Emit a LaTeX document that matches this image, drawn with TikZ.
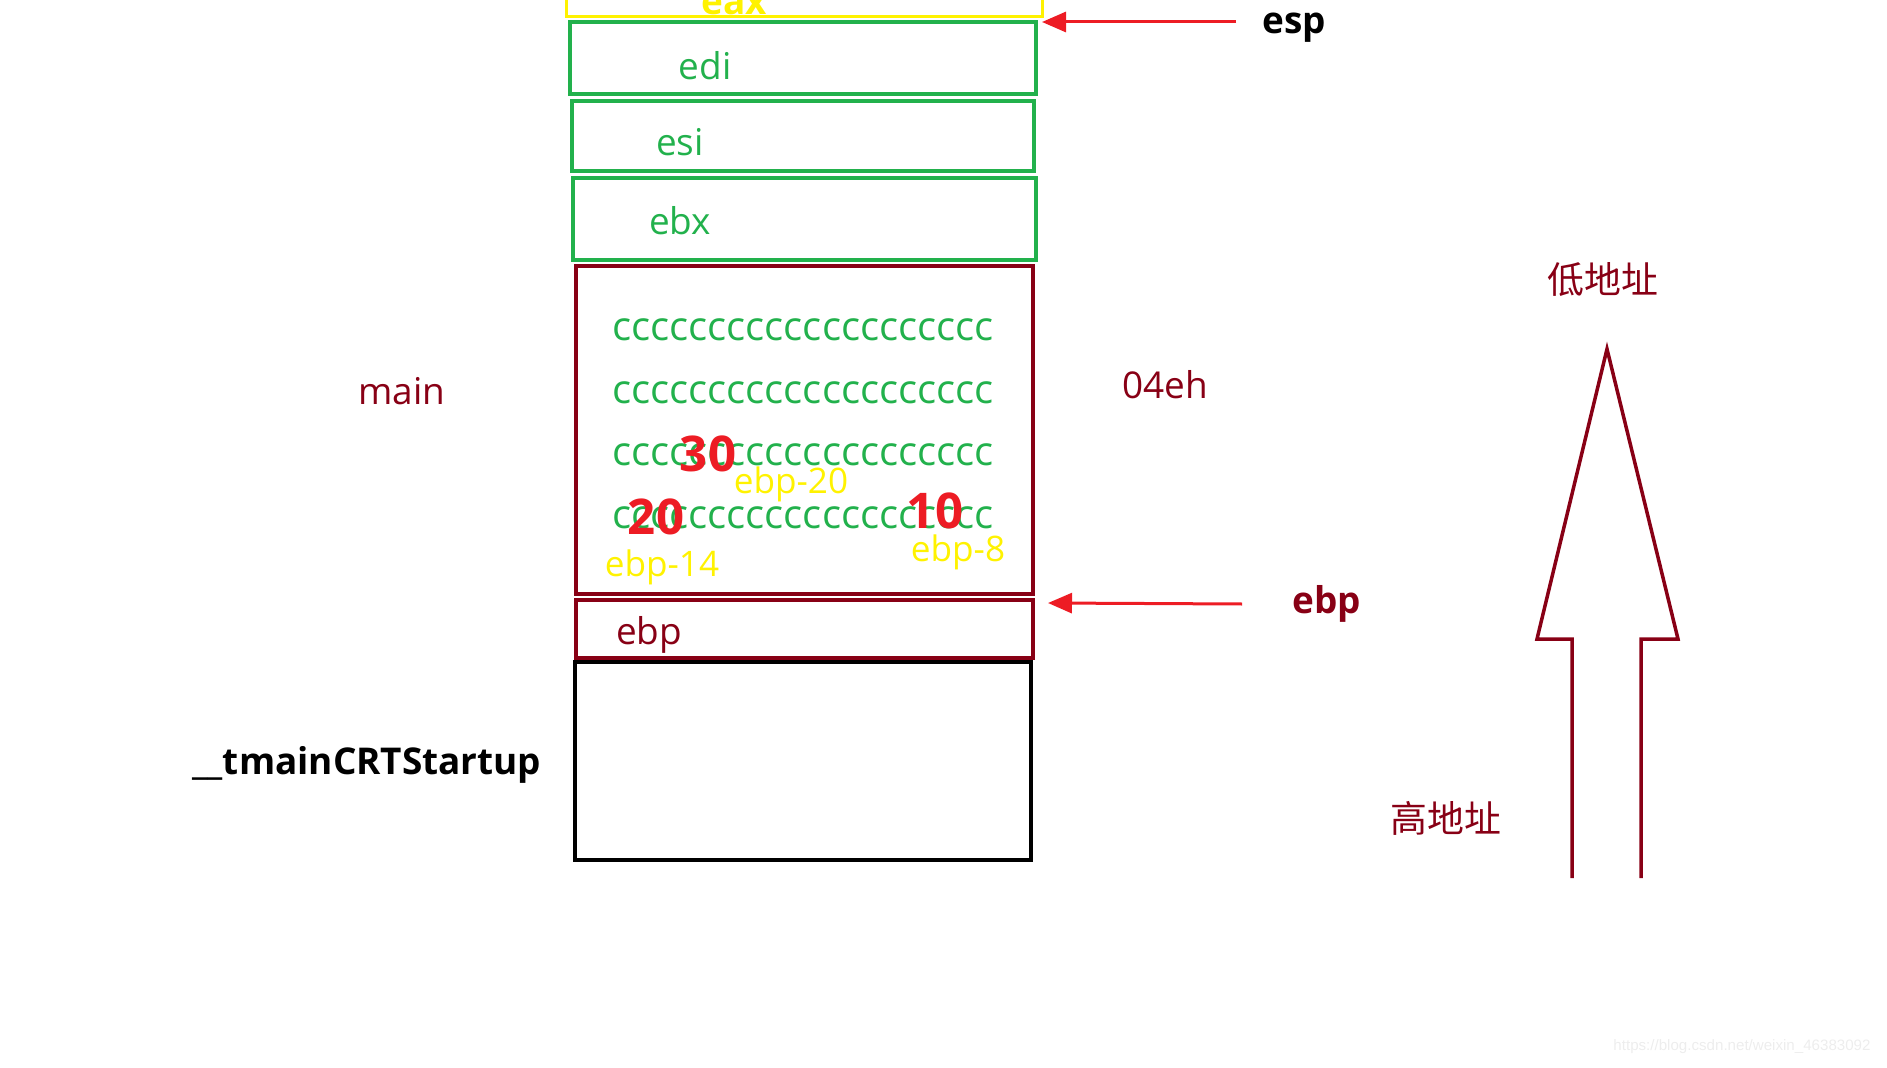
\documentclass[tikz,border=0pt]{standalone}
\usepackage{fontspec}
\setmainfont{Open Sans}
\newfontfamily\cjk{Noto Sans CJK SC}
\newfontfamily\markfont{Liberation Sans}
\usepackage{tikz}
\usetikzlibrary{arrows.meta,positioning}
\usepackage{xcolor}
\definecolor{paintgreen}{HTML}{22B14C}
\definecolor{paintred}{HTML}{880015}
\definecolor{brightred}{HTML}{ED1C24}
\definecolor{paintyellow}{HTML}{FFF200}
\newcommand{\crow}{cccccccccccccccccccc}

\begin{document}
\begin{tikzpicture}[
    node distance=0.2cm and 0.3cm,
    slot/.style={rectangle, draw, line width=0.4mm, inner sep=0pt},
    lbl/.style={font=\fontsize{10.5}{12}\selectfont, inner sep=0pt},
    blbl/.style={font=\fontsize{10.5}{12}\selectfont\bfseries, inner sep=0pt},
    num/.style={font=\fontsize{14}{16}\selectfont\bfseries, text=brightred, inner sep=0pt},
    off/.style={font=\fontsize{10}{12}\selectfont, text=paintyellow, inner sep=0pt},
    ptr/.style={-{Triangle[length=2.4mm,width=2mm]}, line width=0.3mm, draw=brightred}
  ]
  \useasboundingbox (0,0) rectangle (18.87,10.67);

  %% ---- Stack slots ----
  \node[slot, draw=paintyellow, line width=0.3mm, minimum width=4.76cm, minimum height=0.45cm] (eax) at (8.04,10.725) {};
  \node[slot, draw=paintgreen, minimum width=4.66cm, minimum height=0.72cm] (edi) at (8.03,10.09) {};
  \node[slot, draw=paintgreen, minimum width=4.62cm, minimum height=0.70cm] (esi) at (8.03,9.31) {};
  \node[slot, draw=paintgreen, minimum width=4.63cm, minimum height=0.82cm] (ebx) at (8.045,8.48) {};
  \node[slot, draw=paintred, minimum width=4.57cm, minimum height=3.28cm] (locals) at (8.045,6.37) {};
  \node[slot, draw=paintred, minimum width=4.57cm, minimum height=0.58cm] (oldebp) at (8.045,4.38) {};
  \node[slot, draw=black, minimum width=4.56cm, minimum height=1.98cm] (caller) at (8.03,3.06) {};

  %% Slot labels
  \node[blbl, text=paintyellow, anchor=base] (eaxtxt) at (7.34,10.52) {eax};
  \node[lbl, text=paintgreen] (editxt) at (7.05,10.01) {edi};
  \node[lbl, text=paintgreen] (esitxt) at (6.80,9.25) {esi};
  \node[lbl, text=paintgreen] (ebxtxt) at (6.80,8.46) {ebx};
  \node[lbl, text=paintred] (ebptxt) at (6.49,4.32) {ebp};

  %% Filler rows (0xcc)
  \foreach \y/\nm in {7.37/row1, 6.74/row2, 6.12/row3, 5.49/row4}{
    \node[lbl, font=\fontsize{11.4}{12}\selectfont, text=paintgreen] (\nm) at (8.03,\y) {\crow};
  }

  %% Local variables
  \node[num] (v30) at (7.08,6.13) {30};
  \node[num] (v20) at (6.56,5.50) {20};
  \node[num] (v10) at (9.35,5.56) {10};
  \node[off] (o20) at (7.91,5.83) {ebp-20};
  \node[off] (o14) at (6.62,5.00) {ebp-14};
  \node[off] (o8)  at (9.58,5.15) {ebp-8};

  %% ---- Frame names ----
  \node[lbl, text=paintred] (mainlbl) at (4.02,6.76) {main};
  \node[blbl] (crtlbl) at (3.67,3.02) {\_\_tmainCRTStartup};
  \node[lbl, text=paintred] (sizelbl) at (11.65,6.82) {04eh};

  %% ---- Registers ----
  \coordinate (espTail) at (12.36,10.45);
  \coordinate (espHead) at (10.42,10.45);
  \coordinate (ebpTail) at (12.42,4.63);
  \coordinate (ebpHead) at (10.48,4.64);
  \draw[ptr] (espTail) -- (espHead);
  \draw[ptr] (ebpTail) -- (ebpHead);
  \node[blbl] (esplbl) at (12.94,10.39) {esp};
  \node[blbl, text=paintred, right=0.5cm of ebpTail] (ebplbl) {ebp};

  %% ---- Growth direction ----
  \node[lbl, text=paintred, font=\fontsize{10.5}{12}\selectfont\cjk] (low) at (16.03,7.87) {低地址};
  \node[lbl, text=paintred, font=\fontsize{10.5}{12}\selectfont\cjk] (high) at (14.46,2.49) {高地址};
  \draw[paintred, line width=0.35mm, line join=miter]
    (15.72,1.89) -- (15.72,4.28) -- (15.37,4.28) -- (16.07,7.18)
    -- (16.78,4.28) -- (16.41,4.28) -- (16.41,1.89);

  \node[font=\fontsize{4.3}{5}\selectfont\markfont, text=black!7, inner sep=0pt] (mark) at (17.42,0.20) {https://blog.csdn.net/weixin\_46383092};

\end{tikzpicture}
\end{document}
